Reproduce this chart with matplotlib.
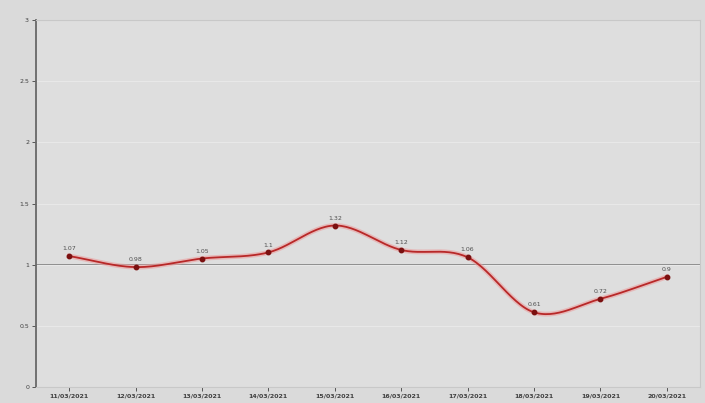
import matplotlib.pyplot as plt
import numpy as np

dates = ["11/03/2021", "12/03/2021", "13/03/2021", "14/03/2021", "15/03/2021",
         "16/03/2021", "17/03/2021", "18/03/2021", "19/03/2021", "20/03/2021"]
values = [1.07, 0.98, 1.05, 1.1, 1.32, 1.12, 1.06, 0.61, 0.72, 0.9]
labels = ["1.07", "0.98", "1.05", "1.1", "1.32", "1.12", "1.06", "0.61", "0.72", "0.9"]
yticks = [0, 0.5, 1, 1.5, 2, 2.5, 3]


def smooth(x, y, n=30):
    # catmull-rom through the points
    x = np.asarray(x, float)
    y = np.asarray(y, float)
    px = np.concatenate([[2 * x[0] - x[1]], x, [2 * x[-1] - x[-2]]])
    py = np.concatenate([[2 * y[0] - y[1]], y, [2 * y[-1] - y[-2]]])
    xs, ys = [], []
    t = np.linspace(0, 1, n)
    for i in range(1, len(px) - 2):
        for p, out in ((px, xs), (py, ys)):
            p0, p1, p2, p3 = p[i - 1], p[i], p[i + 1], p[i + 2]
            out.extend(0.5 * (2 * p1 + (-p0 + p2) * t
                              + (2 * p0 - 5 * p1 + 4 * p2 - p3) * t ** 2
                              + (-p0 + 3 * p1 - 3 * p2 + p3) * t ** 3))
    return np.array(xs), np.array(ys)


fig = plt.figure(figsize=(7.05, 4.03), dpi=100)
fig.patch.set_facecolor("#dadada")
ax = fig.add_axes([0.051, 0.04, 0.942, 0.91])
ax.set_facecolor("#dedede")

x = np.arange(len(dates))
sx, sy = smooth(x, values)
ax.plot(sx, sy, color="#eaa0a0", lw=3.5, alpha=0.6, zorder=2)
ax.plot(sx, sy, color="#b82828", lw=1.3, zorder=3)
ax.plot(x, values, "o", color="#7a1010", ms=3.2, zorder=4)
for xi, v, lab in zip(x, values, labels):
    ax.text(xi, v + 0.04, lab, ha="center", va="bottom", fontsize=4.5, color="#505050")

ax.axhline(1, color="#8a8a8a", lw=1.4, zorder=1)
ax.set_xlim(-0.5, 9.5)
ax.set_ylim(0, 3)
ax.set_yticks(yticks)
ax.set_yticklabels([str(t) for t in yticks])
ax.set_xticks(x)
ax.set_xticklabels(dates, fontweight="bold")
ax.tick_params(labelsize=4.5, colors="#404040", length=3, width=0.6, pad=2)
ax.grid(axis="y", color="#e8e8e8", lw=0.8)
for s in ["top", "right", "bottom"]:
    ax.spines[s].set_color("#c8c8c8")
ax.spines["left"].set_color("#686868")
ax.spines["left"].set_linewidth(1.3)

fig.savefig("out.png", dpi=100, facecolor=fig.get_facecolor())
